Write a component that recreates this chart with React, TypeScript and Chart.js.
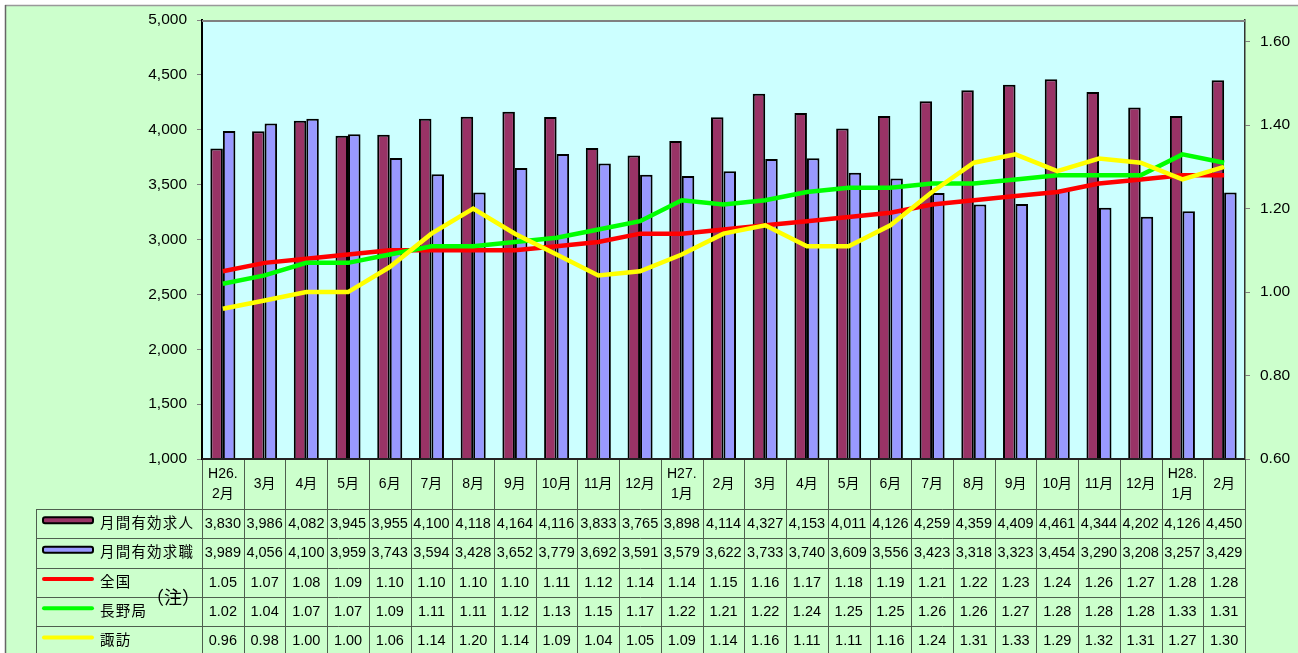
import React, { useEffect, useRef } from 'react';
import { Chart, registerables } from 'chart.js';

Chart.register(...registerables);

const categories = [
  'H26.\n2月', '3月', '4月', '5月', '6月', '7月', '8月', '9月', '10月', '11月', '12月',
  'H27.\n1月', '2月', '3月', '4月', '5月', '6月', '7月', '8月', '9月', '10月', '11月', '12月',
  'H28.\n1月', '2月',
];

const jobOffers = [
  3830, 3986, 4082, 3945, 3955, 4100, 4118, 4164, 4116, 3833, 3765, 3898, 4114,
  4327, 4153, 4011, 4126, 4259, 4359, 4409, 4461, 4344, 4202, 4126, 4450,
];

const jobSeekers = [
  3989, 4056, 4100, 3959, 3743, 3594, 3428, 3652, 3779, 3692, 3591, 3579, 3622,
  3733, 3740, 3609, 3556, 3423, 3318, 3323, 3454, 3290, 3208, 3257, 3429,
];

const ratioNational = [
  1.05, 1.07, 1.08, 1.09, 1.10, 1.10, 1.10, 1.10, 1.11, 1.12, 1.14, 1.14, 1.15,
  1.16, 1.17, 1.18, 1.19, 1.21, 1.22, 1.23, 1.24, 1.26, 1.27, 1.28, 1.28,
];

const ratioNagano = [
  1.02, 1.04, 1.07, 1.07, 1.09, 1.11, 1.11, 1.12, 1.13, 1.15, 1.17, 1.22, 1.21,
  1.22, 1.24, 1.25, 1.25, 1.26, 1.26, 1.27, 1.28, 1.28, 1.28, 1.33, 1.31,
];

const ratioSuwa = [
  0.96, 0.98, 1.00, 1.00, 1.06, 1.14, 1.20, 1.14, 1.09, 1.04, 1.05, 1.09, 1.14,
  1.16, 1.11, 1.11, 1.16, 1.24, 1.31, 1.33, 1.29, 1.32, 1.31, 1.27, 1.30,
];

const leftTicks = [1000, 1500, 2000, 2500, 3000, 3500, 4000, 4500, 5000];
const rightTicks = [0.6, 0.8, 1.0, 1.2, 1.4, 1.6];

const FONT = "'Liberation Sans', Arial, 'Noto Sans CJK JP', sans-serif";
const C_OFFER = '#993366';
const C_SEEK = '#9999FF';
const C_NAT = '#FF0000';
const C_NAG = '#00FF00';
const C_SUWA = '#FFFF00';

const fmtComma = (v: number) => v.toLocaleString('en-US');
const fmt2 = (v: number) => v.toFixed(2);

const tableRows = [
  { label: '月間有効求人', kind: 'bar', color: C_OFFER, values: jobOffers, fmt: fmtComma },
  { label: '月間有効求職', kind: 'bar', color: C_SEEK, values: jobSeekers, fmt: fmtComma },
  { label: '全国', kind: 'line', color: C_NAT, values: ratioNational, fmt: fmt2 },
  { label: '長野局', kind: 'line', color: C_NAG, values: ratioNagano, fmt: fmt2 },
  { label: '諏訪', kind: 'line', color: C_SUWA, values: ratioSuwa, fmt: fmt2 },
];

const framePlugin = {
  id: 'frameAndTable',
  beforeDraw(chart: any) {
    const { ctx, width, height, chartArea: ca } = chart;
    ctx.save();
    ctx.fillStyle = '#FFFFFF';
    ctx.fillRect(0, 0, width, height);
    ctx.fillStyle = '#CCFFCC';
    ctx.fillRect(5, 5, width - 5, height - 5);
    ctx.lineWidth = 1.5;
    ctx.strokeStyle = '#999999';
    ctx.beginPath();
    ctx.moveTo(5, 5.5);
    ctx.lineTo(width, 5.5);
    ctx.stroke();
    ctx.strokeStyle = '#666666';
    ctx.beginPath();
    ctx.moveTo(5.5, 5);
    ctx.lineTo(5.5, height);
    ctx.stroke();
    ctx.fillStyle = '#CCFFFF';
    ctx.fillRect(ca.left, ca.top, ca.right - ca.left, ca.bottom - ca.top);
    ctx.restore();
  },
  afterDraw(chart: any) {
    const { ctx, height, chartArea: ca } = chart;
    const xs = chart.scales.x;
    const n = categories.length;
    const step = xs.getPixelForValue(1) - xs.getPixelForValue(0);
    const x0 = xs.getPixelForValue(0) - step / 2;
    const xEnd = x0 + step * n;
    const top = ca.bottom;
    const headerH = 50;
    const rowH = 29.3;
    const legendLeft = 36;

    ctx.save();
    // plot top border
    ctx.strokeStyle = '#808080';
    ctx.lineWidth = 2;
    ctx.beginPath();
    ctx.moveTo(ca.left, ca.top + 1);
    ctx.lineTo(ca.right, ca.top + 1);
    ctx.stroke();

    // table grid
    ctx.strokeStyle = '#4E5E4E';
    ctx.lineWidth = 1;
    ctx.beginPath();
    for (let b = 0; b <= n; b++) {
      const x = Math.round(x0 + b * step) + 0.5;
      ctx.moveTo(x, top);
      ctx.lineTo(x, height);
    }
    ctx.moveTo(legendLeft + 0.5, top + headerH);
    ctx.lineTo(legendLeft + 0.5, height);
    for (let r = 0; r < tableRows.length; r++) {
      const y = Math.round(top + headerH + r * rowH) + 0.5;
      ctx.moveTo(legendLeft, y);
      ctx.lineTo(xEnd, y);
    }
    ctx.stroke();

    // bottom axis line of plot
    ctx.strokeStyle = '#222222';
    ctx.lineWidth = 2;
    ctx.beginPath();
    ctx.moveTo(ca.left, top);
    ctx.lineTo(ca.right, top);
    ctx.stroke();

    // header labels
    ctx.fillStyle = '#000000';
    ctx.font = `14px ${FONT}`;
    ctx.textAlign = 'center';
    ctx.textBaseline = 'middle';
    for (let i = 0; i < n; i++) {
      const cx = xs.getPixelForValue(i);
      const lines = categories[i].split('\n');
      const cy = top + headerH / 2;
      if (lines.length === 1) {
        ctx.fillText(lines[0], cx, cy);
      } else {
        ctx.fillText(lines[0], cx, cy - 10);
        ctx.fillText(lines[1], cx, cy + 10);
      }
    }

    // data rows
    tableRows.forEach((row, r) => {
      const cy = top + headerH + r * rowH + rowH / 2;
      ctx.textAlign = 'center';
      ctx.font = `14.5px ${FONT}`;
      ctx.fillStyle = '#000000';
      row.values.forEach((v, i) => {
        ctx.fillText(row.fmt(v), xs.getPixelForValue(i), cy + 0.5);
      });
      // legend symbol
      const sy = cy - 3.3;
      if (row.kind === 'bar') {
        ctx.fillStyle = row.color;
        ctx.strokeStyle = '#000000';
        ctx.lineWidth = 2;
        ctx.beginPath();
        (ctx as any).roundRect(43, sy - 3, 50, 6, 2);
        ctx.fill();
        ctx.stroke();
      } else {
        ctx.strokeStyle = row.color;
        ctx.lineWidth = 4;
        ctx.lineCap = 'round';
        ctx.beginPath();
        ctx.moveTo(44, sy);
        ctx.lineTo(92, sy);
        ctx.stroke();
        ctx.lineCap = 'butt';
      }
      ctx.fillStyle = '#000000';
      ctx.textAlign = 'left';
      ctx.font = `14.5px ${FONT}`;
      (ctx as any).letterSpacing = '1.2px';
      ctx.fillText(row.label, 100, cy + 0.5);
      (ctx as any).letterSpacing = '0px';
    });

    // (注)
    ctx.textAlign = 'center';
    ctx.font = `18px ${FONT}`;
    ctx.fillText('（注）', 173, top + headerH + 3 * rowH + 2);
    ctx.restore();
  },
};

export default function App() {
  const ref = useRef<HTMLCanvasElement | null>(null);

  useEffect(() => {
    document.body.style.margin = '0';
    const canvas = ref.current;
    if (!canvas) return;
    const lineDs = (label: string, data: number[], color: string, order: number) => ({
      type: 'line' as const,
      label,
      data,
      yAxisID: 'y1',
      borderColor: color,
      backgroundColor: color,
      borderWidth: 4.5,
      pointRadius: 0,
      pointHoverRadius: 0,
      tension: 0,
      fill: false,
      order,
    });
    const chart = new Chart(canvas, {
      type: 'bar',
      data: {
        labels: categories,
        datasets: [
          {
            type: 'bar',
            label: '月間有効求人',
            data: jobOffers,
            backgroundColor: C_OFFER,
            borderColor: '#000000',
            borderWidth: 2,
            yAxisID: 'y',
            categoryPercentage: 0.6,
            barPercentage: 1.0,
            order: 5,
          } as any,
          {
            type: 'bar',
            label: '月間有効求職',
            data: jobSeekers,
            backgroundColor: C_SEEK,
            borderColor: '#000000',
            borderWidth: 2,
            yAxisID: 'y',
            categoryPercentage: 0.6,
            barPercentage: 1.0,
            order: 5,
          } as any,
          lineDs('全国', ratioNational, C_NAT, 2),
          lineDs('長野局', ratioNagano, C_NAG, 1),
          lineDs('諏訪', ratioSuwa, C_SUWA, 0),
        ],
      },
      options: {
        responsive: false,
        animation: false,
        devicePixelRatio: 1,
        layout: { padding: { top: 20, bottom: 194, left: 0, right: 0 } },
        plugins: {
          legend: { display: false },
          tooltip: { enabled: false },
        },
        scales: {
          x: {
            type: 'category',
            display: false,
            offset: true,
          },
          y: {
            type: 'linear',
            position: 'left',
            min: 1000,
            max: 5000,
            afterBuildTicks: (s: any) => {
              s.ticks = leftTicks.map((v) => ({ value: v }));
            },
            afterFit: (s: any) => {
              s.width = 202;
            },
            grid: {
              drawOnChartArea: false,
              drawTicks: true,
              tickLength: 5,
              color: '#808080',
            },
            border: { display: true, color: '#000000', width: 2 },
            ticks: {
              padding: 10,
              color: '#000000',
              font: { family: FONT, size: 15.5 },
              callback: (v: any) => fmtComma(Number(v)),
            },
          },
          y1: {
            type: 'linear',
            position: 'right',
            min: 0.6,
            max: 1.652,
            afterBuildTicks: (s: any) => {
              s.ticks = rightTicks.map((v) => ({ value: v }));
            },
            afterFit: (s: any) => {
              s.width = 53;
            },
            grid: {
              drawOnChartArea: false,
              drawTicks: true,
              tickLength: 5,
              color: '#808080',
            },
            border: { display: true, color: '#333333', width: 1.5 },
            ticks: {
              padding: 10,
              color: '#000000',
              font: { family: FONT, size: 15.5 },
              callback: (v: any) => fmt2(Number(v)),
            },
          },
        },
      } as any,
      plugins: [framePlugin],
    });
    return () => chart.destroy();
  }, []);

  return (
    <div style={{ width: 1298, height: 653, overflow: 'hidden' }}>
      <canvas ref={ref} width={1298} height={653} style={{ display: 'block' }} />
    </div>
  );
}
